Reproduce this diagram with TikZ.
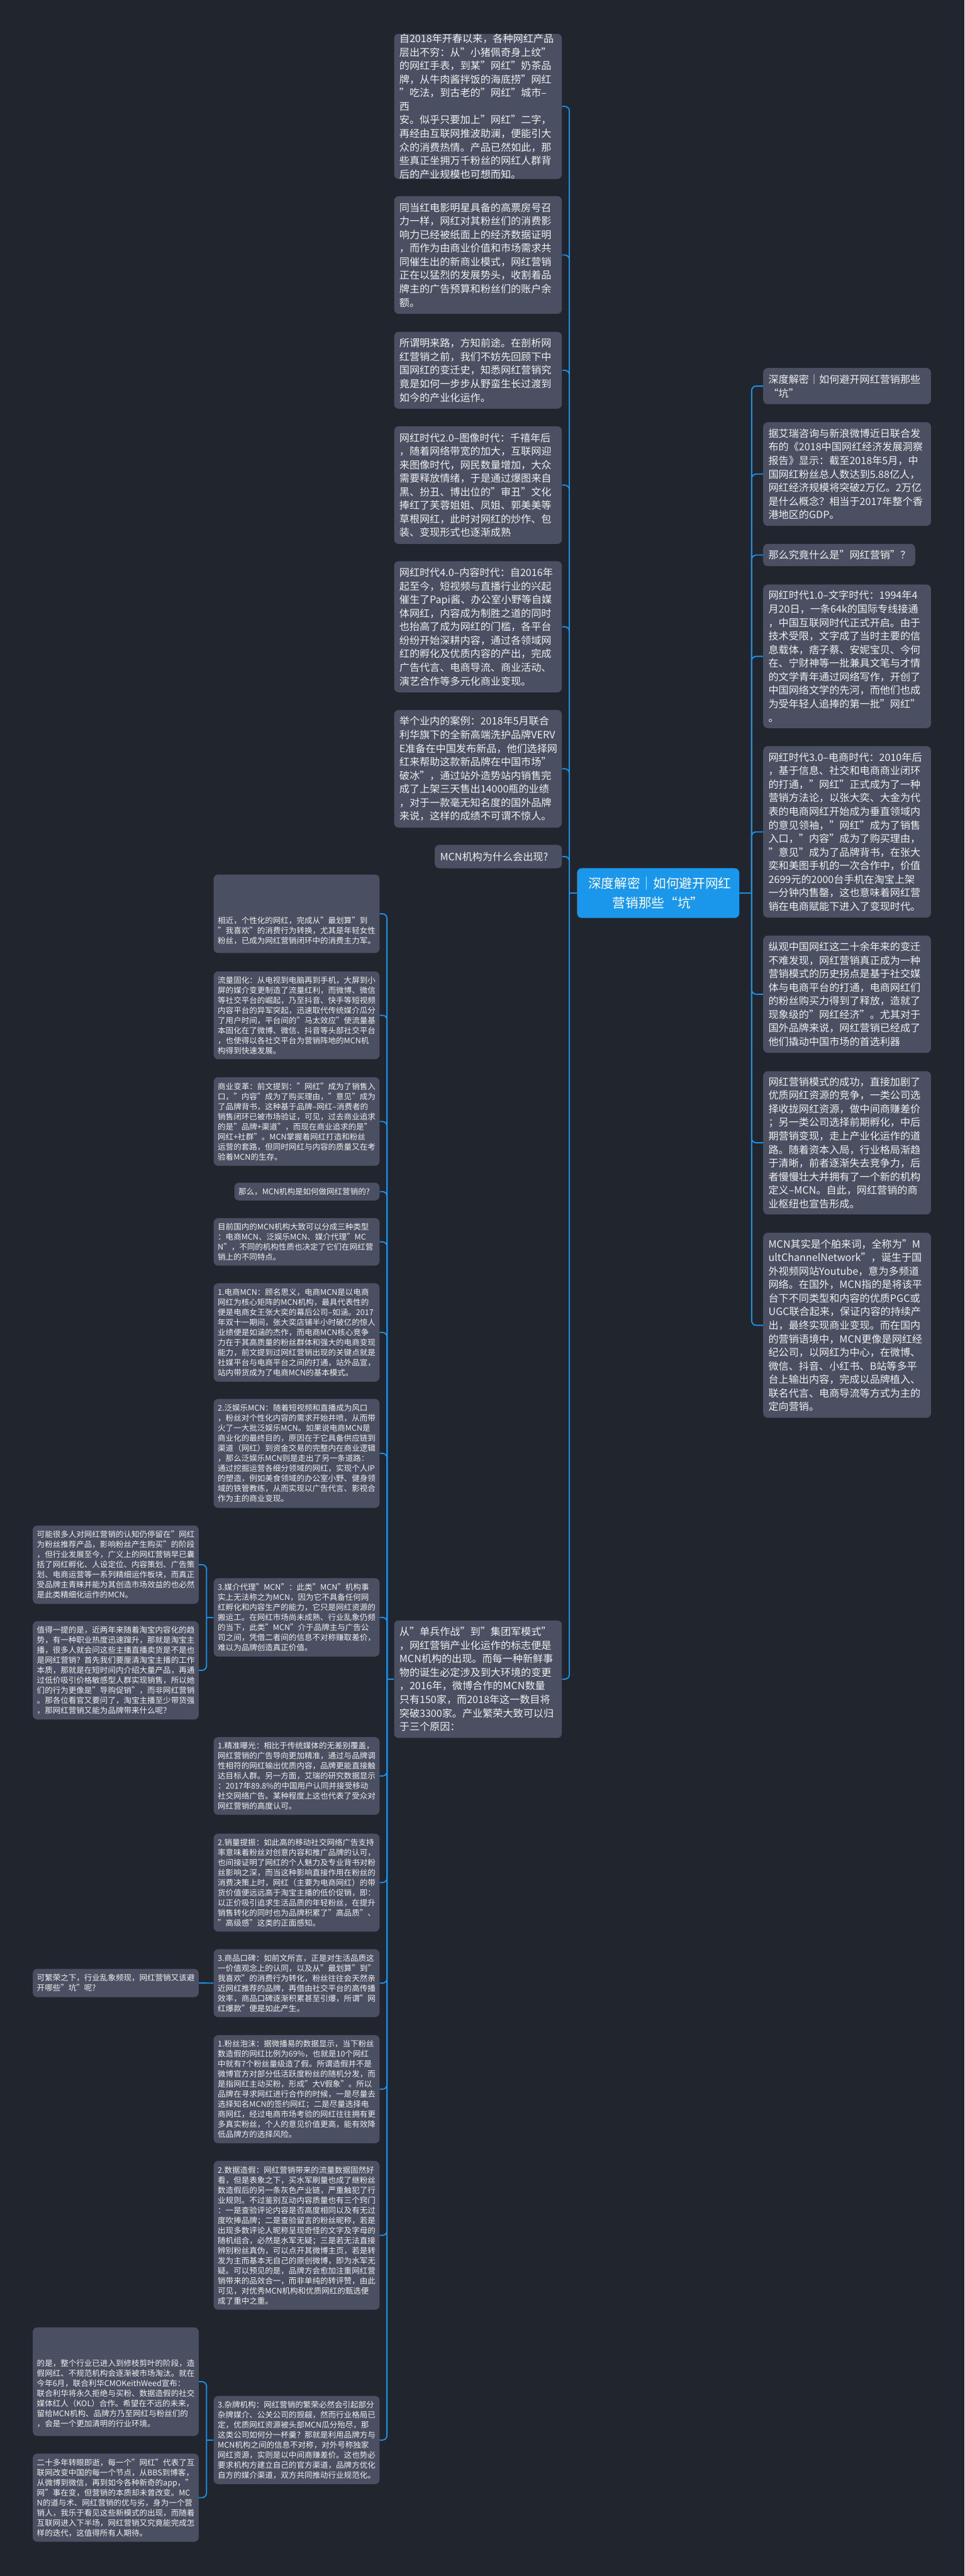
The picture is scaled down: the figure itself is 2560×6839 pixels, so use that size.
\documentclass[tikz,border=0pt]{standalone}
\usepackage{fontspec}
\setmainfont{Noto Sans CJK SC}
\usetikzlibrary{positioning}
\definecolor{mapbg}{HTML}{21252E}
\definecolor{cardfill}{HTML}{4A5061}
\definecolor{cardtext}{HTML}{F0F0F0}
\definecolor{linkblue}{HTML}{1E90E6}
\definecolor{rootblue}{HTML}{1A96EB}

\begin{document}
\begin{tikzpicture}[x=0.01cm, y=-0.01cm,
  card/.style={fill=cardfill, rounded corners=0.12cm, text=cardtext,
               align=left, inner ysep=0pt},
  bigcard/.style={card, font=\fontsize{7.65pt}{10.24pt}\selectfont,
               inner xsep=0.14cm, text width=4.17cm},
  smallcard/.style={card, font=\fontsize{5.95pt}{7.6pt}\selectfont,
               inner xsep=0.11cm, text width=4.18cm},
  rootcard/.style={fill=rootblue, rounded corners=0.12cm, text=white,
               align=center, font=\fontsize{9.8pt}{14.7pt}\selectfont,
               inner xsep=0.3cm, inner ysep=0pt, text width=3.7cm},
  link/.style={draw=linkblue, line width=0.9pt, rounded corners=0.12cm},
]

% Background and page frame.
\fill[mapbg] (0,0) rectangle (2560,6839);
\useasboundingbox (0,0) rectangle (2560,6839);

% Root.
\node[rootcard, anchor=west, minimum height=1.32cm] (root) at (1531,2371)
  {深度解密｜如何避开网红\\营销那些“坑”};

% Left column next to the root.
\node[bigcard, anchor=east, minimum height=3.85cm] (a1) at (1492,282.5)
  {自2018年开春以来，各种网红产品\\层出不穷：从”小猪佩奇身上纹”\\的网红手表，到某”网红”奶茶品\\牌，从牛肉酱拌饭的海底捞”网红\\”吃法，到古老的”网红”城市–西\\安。似乎只要加上”网红”二字，\\再经由互联网推波助澜，便能引大\\众的消费热情。产品已然如此，那\\些真正坐拥万千粉丝的网红人群背\\后的产业规模也可想而知。};
\node[bigcard, anchor=east, minimum height=3.12cm] (a2) at (1492,677)
  {同当红电影明星具备的高票房号召\\力一样，网红对其粉丝们的消费影\\响力已经被纸面上的经济数据证明\\，而作为由商业价值和市场需求共\\同催生出的新商业模式，网红营销\\正在以猛烈的发展势头，收割着品\\牌主的广告预算和粉丝们的账户余\\额。};
\node[bigcard, anchor=east, minimum height=2.04cm] (a3) at (1492,983)
  {所谓明来路，方知前途。在剖析网\\红营销之前，我们不妨先回顾下中\\国网红的变迁史，知悉网红营销究\\竟是如何一步步从野蛮生长过渡到\\如今的产业化运作。};
\node[bigcard, anchor=east, minimum height=3.12cm] (a4) at (1492,1288)
  {网红时代2.0–图像时代：千禧年后\\，随着网络带宽的加大，互联网迎\\来图像时代，网民数量增加，大众\\需要释放情绪，于是通过爆图来自\\黑、扮丑、博出位的”审丑”文化\\捧红了芙蓉姐姐、凤姐、郭美美等\\草根网红，此时对网红的炒作、包\\装、变现形式也逐渐成熟};
\node[bigcard, anchor=east, minimum height=3.48cm] (a5) at (1492,1664)
  {网红时代4.0–内容时代：自2016年\\起至今，短视频与直播行业的兴起\\催生了Papi酱、办公室小野等自媒\\体网红，内容成为制胜之道的同时\\也抬高了成为网红的门槛，各平台\\纷纷开始深耕内容，通过各领域网\\红的孵化及优质内容的产出，完成\\广告代言、电商导流、商业活动、\\演艺合作等多元化商业变现。};
\node[bigcard, anchor=east, minimum height=3.12cm] (a6) at (1492,2041)
  {举个业内的案例：2018年5月联合\\利华旗下的全新高端洗护品牌VERV\\E准备在中国发布新品，他们选择网\\红来帮助这款新品牌在中国市场”\\破冰”，通过站外造势站内销售完\\成了上架三天售出14000瓶的业绩\\，对于一款毫无知名度的国外品牌\\来说，这样的成绩不可谓不惊人。};
\node[bigcard, anchor=east, text width=3.09cm, minimum height=0.62cm] (ques) at (1492,2274)
  {MCN机构为什么会出现?};
\node[bigcard, anchor=east, minimum height=3.12cm] (from) at (1492,4458)
  {从”单兵作战”到”集团军模式”\\，网红营销产业化运作的标志便是\\MCN机构的出现。而每一种新鲜事\\物的诞生必定涉及到大环境的变更\\，2016年，微博合作的MCN数量\\只有150家，而2018年这一数目将\\突破3300家。产业繁荣大致可以归\\于三个原因：};

% Right column.
\node[bigcard, anchor=west, minimum height=0.96cm] (r1) at (2025,1025)
  {深度解密｜如何避开网红营销那些\\“坑”};
\node[bigcard, anchor=west, minimum height=2.75cm] (r2) at (2025,1258.5)
  {据艾瑞咨询与新浪微博近日联合发\\布的《2018中国网红经济发展洞察\\报告》显示：截至2018年5月，中\\国网红粉丝总人数达到5.88亿人，\\网红经济规模将突破2万亿。2万亿\\是什么概念？相当于2017年整个香\\港地区的GDP。};
\node[bigcard, anchor=west, text width=3.75cm, minimum height=0.59cm] (r3) at (2025,1473.5)
  {那么究竟什么是”网红营销”？};
\node[bigcard, anchor=west, minimum height=3.81cm] (r4) at (2025,1742.5)
  {网红时代1.0–文字时代：1994年4\\月20日，一条64k的国际专线接通\\，中国互联网时代正式开启。由于\\技术受限，文字成了当时主要的信\\息载体，痞子蔡、安妮宝贝、今何\\在、宁财神等一批兼具文笔与才情\\的文学青年通过网络写作，开创了\\中国网络文学的先河，而他们也成\\为受年轻人追捧的第一批”网红”\\。};
\node[bigcard, anchor=west, minimum height=4.55cm] (r5) at (2025,2208.5)
  {网红时代3.0–电商时代：2010年后\\，基于信息、社交和电商商业闭环\\的打通，”网红”正式成为了一种\\营销方法论，以张大奕、大金为代\\表的电商网红开始成为垂直领域内\\的意见领袖，”网红”成为了销售\\入口，”内容”成为了购买理由，\\”意见”成为了品牌背书，在张大\\奕和美图手机的一次合作中，价值\\2699元的2000台手机在淘宝上架\\一分钟内售罄，这也意味着网红营\\销在电商赋能下进入了变现时代。};
\node[bigcard, anchor=west, minimum height=3.11cm] (r6) at (2025,2639.5)
  {纵观中国网红这二十余年来的变迁\\不难发现，网红营销真正成为一种\\营销模式的历史拐点是基于社交媒\\体与电商平台的打通，电商网红们\\的粉丝购买力得到了释放，造就了\\现象级的”网红经济”。尤其对于\\国外品牌来说，网红营销已经成了\\他们撬动中国市场的首选利器};
\node[bigcard, anchor=west, minimum height=3.80cm] (r7) at (2025,3034)
  {网红营销模式的成功，直接加剧了\\优质网红资源的竞争，一类公司选\\择收拢网红资源，做中间商赚差价\\；另一类公司选择前期孵化，中后\\期营销变现，走上产业化运作的道\\路。随着资本入局，行业格局渐趋\\于清晰，前者逐渐失去竞争力，后\\者慢慢壮大并拥有了一个新的机构\\定义–MCN。自此，网红营销的商\\业枢纽也宣告形成。};
\node[bigcard, anchor=west, minimum height=4.91cm] (r8) at (2025,3518.5)
  {MCN其实是个舶来词，全称为”M\\ultChannelNetwork”，诞生于国\\外视频网站Youtube，意为多频道\\网络。在国外，MCN指的是将该平\\台下不同类型和内容的优质PGC或\\UGC联合起来，保证内容的持续产\\出，最终实现商业变现。而在国内\\的营销语境中，MCN更像是网红经\\纪公司，以网红为中心，在微博、\\微信、抖音、小红书、B站等多平\\台上输出内容，完成以品牌植入、\\联名代言、电商导流等方式为主的\\定向营销。};

% Middle column, children of the MCN card.
\node[smallcard, anchor=east, minimum height=2.08cm] (m1) at (1008,2426)
  {\mbox{}\\[22.8pt]相近，个性化的网红，完成从”最划算”到\\”我喜欢”的消费行为转换，尤其是年轻女性\\粉丝，已成为网红营销闭环中的消费主力军。};
\node[smallcard, anchor=east, minimum height=2.33cm] (m2) at (1008,2695.5)
  {流量固化：从电视到电脑再到手机，大屏到小\\屏的媒介变更制造了流量红利，而微博、微信\\等社交平台的崛起，乃至抖音、快手等短视频\\内容平台的异军突起，迅速取代传统媒介瓜分\\了用户时间，平台间的”马太效应”使流量基\\本固化在了微博、微信、抖音等头部社交平台\\，也使得以各社交平台为营销阵地的MCN机\\构得到快速发展。};
\node[smallcard, anchor=east, minimum height=2.35cm] (m3) at (1008,2977.5)
  {商业变革：前文提到：”网红”成为了销售入\\口，”内容”成为了购买理由，”意见”成为\\了品牌背书，这种基于品牌–网红–消费者的\\销售闭环已被市场验证，可见，过去商业追求\\的是”品牌+渠道”，而现在商业追求的是”\\网红+社群”。MCN掌握着网红打造和粉丝\\运营的套路，但同时网红与内容的质量又在考\\验着MCN的生存。};
\node[smallcard, anchor=east, text width=3.63cm, minimum height=0.47cm] (m4) at (1008,3163.5)
  {那么，MCN机构是如何做网红营销的?};
\node[smallcard, anchor=east, minimum height=1.26cm] (m5) at (1008,3297)
  {目前国内的MCN机构大致可以分成三种类型\\：电商MCN、泛娱乐MCN、媒介代理”MC\\N”，不同的机构性质也决定了它们在网红营\\销上的不同特点。};
\node[smallcard, anchor=east, minimum height=2.61cm] (m6) at (1008,3537.5)
  {1.电商MCN：顾名思义，电商MCN是以电商\\网红为核心矩阵的MCN机构，最具代表性的\\便是电商女王张大奕的幕后公司–如涵。2017\\年双十一期间，张大奕店铺半小时破亿的惊人\\业绩便是如涵的杰作，而电商MCN核心竞争\\力在于其高质量的粉丝群体和强大的电商变现\\能力，前文提到过网红营销出现的关键点就是\\社媒平台与电商平台之间的打通，站外品宣，\\站内带货成为了电商MCN的基本模式。};
\node[smallcard, anchor=east, minimum height=2.89cm] (m7) at (1008,3858.5)
  {2.泛娱乐MCN：随着短视频和直播成为风口\\，粉丝对个性化内容的需求开始井喷，从而带\\火了一大批泛娱乐MCN。如果说电商MCN是\\商业化的最终目的，原因在于它具备供应链到\\渠道（网红）到资金交易的完整内在商业逻辑\\，那么泛娱乐MCN则是走出了另一条道路：\\通过挖掘运营各细分领域的网红，实现个人IP\\的塑造，例如美食领域的办公室小野、健身领\\域的铁管教练，从而实现以广告代言、影视合\\作为主的商业变现。};
\node[smallcard, anchor=east, minimum height=2.08cm] (m8) at (1008,4294)
  {3.媒介代理”MCN”：此类”MCN”机构事\\实上无法称之为MCN，因为它不具备任何网\\红孵化和内容生产的能力，它只是网红资源的\\搬运工。在网红市场尚未成熟、行业乱象仍频\\的当下，此类”MCN”介于品牌主与广告公\\司之间，凭借二者间的信息不对称赚取差价，\\难以为品牌创造真正价值。};
\node[smallcard, anchor=east, minimum height=2.06cm] (m9) at (1008,4715)
  {1.精准曝光：相比于传统媒体的无差别覆盖，\\网红营销的广告导向更加精准，通过与品牌调\\性相符的网红输出优质内容，品牌更能直接触\\达目标人群。另一方面，艾瑞的研究数据显示\\：2017年89.8\%的中国用户认同并接受移动\\社交网络广告。某种程度上这也代表了受众对\\网红营销的高度认可。};
\node[smallcard, anchor=east, minimum height=2.60cm] (m10) at (1008,4998)
  {2.销量提振：如此高的移动社交网络广告支持\\率意味着粉丝对创意内容和推广品牌的认可，\\也间接证明了网红的个人魅力及专业背书对粉\\丝影响之深，而当这种影响直接作用在粉丝的\\消费决策上时，网红（主要为电商网红）的带\\货价值便远远高于淘宝主播的低价促销，即：\\以正价吸引追求生活品质的年轻粉丝，在提升\\销售转化的同时也为品牌积累了”高品质”、\\”高级感”这类的正面感知。};
\node[smallcard, anchor=east, minimum height=1.80cm] (m11) at (1008,5265)
  {3.商品口碑：如前文所言，正是对生活品质这\\一价值观念上的认同，以及从”最划算”到”\\我喜欢”的消费行为转化，粉丝往往会天然亲\\近网红推荐的品牌，再借由社交平台的高传播\\效率，商品口碑逐渐积累甚至引爆，所谓”网\\红爆款”便是如此产生。};
\node[smallcard, anchor=east, minimum height=2.87cm] (m12) at (1008,5546.5)
  {1.粉丝泡沫：据微播易的数据显示，当下粉丝\\数造假的网红比例为69\%，也就是10个网红\\中就有7个粉丝量级造了假。所谓造假并不是\\微博官方对部分低活跃度粉丝的随机分发，而\\是指网红主动买粉，形成”大V假象”。所以\\品牌在寻求网红进行合作的时候，一是尽量去\\选择知名MCN的签约网红；二是尽量选择电\\商网红，经过电商市场考验的网红往往拥有更\\多真实粉丝，个人的意见价值更高，能有效降\\低品牌方的选择风险。};
\node[smallcard, anchor=east, minimum height=3.95cm] (m13) at (1008,5934.5)
  {2.数据造假：网红营销带来的流量数据固然好\\看，但是表象之下，买水军刷量也成了继粉丝\\数造假后的另一条灰色产业链，严重触犯了行\\业规则。不过鉴别互动内容质量也有三个窍门\\：一是查验评论内容是否高度相同以及有无过\\度吹捧品牌；二是查验留言的粉丝昵称，若是\\出现多数评论人昵称呈现奇怪的文字及字母的\\随机组合，必然是水军无疑；三是若无法直接\\辨别粉丝真伪，可以点开其微博主页，若是转\\发为主而基本无自己的原创微博，即为水军无\\疑。可以预见的是，品牌方会愈加注重网红营\\销带来的品效合一，而非单纯的转评赞，由此\\可见，对优秀MCN机构和优质网红的甄选便\\成了重中之重。};
\node[smallcard, anchor=east, minimum height=2.34cm] (m14) at (1008,6478)
  {3.杂牌机构：网红营销的繁荣必然会引起部分\\杂牌媒介、公关公司的觊觎，然而行业格局已\\定，优质网红资源被头部MCN瓜分殆尽，那\\这类公司如何分一杯羹？那就是利用品牌方与\\MCN机构之间的信息不对称，对外号称独家\\网红资源，实则是以中间商赚差价。这也势必\\要求机构方建立自己的官方渠道，品牌方优化\\自方的媒介渠道，双方共同推动行业规范化。};

% Far left column.
\node[smallcard, anchor=east, minimum height=2.08cm] (f1) at (528,4154)
  {可能很多人对网红营销的认知仍停留在”网红\\为粉丝推荐产品，影响粉丝产生购买”的阶段\\，但行业发展至今，广义上的网红营销早已囊\\括了网红孵化、人设定位、内容策划、广告策\\划、电商运营等一系列精细运作板块，而真正\\受品牌主青睐并能为其创造市场效益的也必然\\是此类精细化运作的MCN。};
\node[smallcard, anchor=east, minimum height=2.61cm] (f2) at (528,4434.5)
  {值得一提的是，近两年来随着淘宝内容化的趋\\势，有一种职业热度迅速蹿升，那就是淘宝主\\播，很多人就会问这些主播直播卖货是不是也\\是网红营销？首先我们要厘清淘宝主播的工作\\本质，那就是在短时间内介绍大量产品，再通\\过低价吸引价格敏感型人群实现销售，所以她\\们的行为更像是”导购促销”，而非网红营销\\。那各位看官又要问了，淘宝主播至少带货强\\，那网红营销又能为品牌带来什么呢？};
\node[smallcard, anchor=east, minimum height=0.75cm] (f3) at (528,5264.5)
  {可繁荣之下，行业乱象频现，网红营销又该避\\开哪些”坑”呢?};
\node[smallcard, anchor=east, minimum height=2.88cm] (f4) at (528,6323)
  {\mbox{}\\[15.2pt]的是，整个行业已进入到修枝剪叶的阶段，造\\假网红、不规范机构会逐渐被市场淘汰。就在\\今年6月，联合利华CMOKeithWeed宣布：\\联合利华将永久拒绝与买粉、数据造假的社交\\媒体红人（KOL）合作。希望在不远的未来，\\留给MCN机构、品牌方乃至网红与粉丝们的\\，会是一个更加清明的行业环境。};
\node[smallcard, anchor=east, minimum height=2.34cm] (f5) at (528,6631)
  {二十多年转眼即逝，每一个”网红”代表了互\\联网改变中国的每一个节点，从BBS到博客，\\从微博到微信，再到如今各种新奇的app，”\\网”事在变，但营销的本质却未曾改变。MC\\N的道与术、网红营销的优与劣，身为一个营\\销人，我乐于看见这些新模式的出现，而随着\\互联网进入下半场，网红营销又究竟能完成怎\\样的迭代，这值得所有人期待。};

% Trunk points.
\coordinate (ltrunk) at (1511,2371);
\coordinate (rtrunk) at (1995,2371);
\coordinate (mtrunk) at (1027,4458);
\coordinate (ftrunka) at (548,4294);
\coordinate (ftrunkb) at (548,6478);

% Connectors.
\draw[link] (root.west) -- (ltrunk);
\draw[link] (root.east) -- (rtrunk);
\foreach \n in {a1,a2,a3,a4,a5,a6,ques,from}
  \draw[link] (ltrunk) |- (\n.east);
\foreach \n in {r1,r2,r3,r4,r5,r6,r7,r8}
  \draw[link] (rtrunk) |- (\n.west);
\draw[link] (from.west) -- (mtrunk);
\foreach \n in {m1,m2,m3,m4,m5,m6,m7,m8,m9,m10,m11,m12,m13,m14}
  \draw[link] (mtrunk) |- (\n.east);
\draw[link] (m8.west) -- (ftrunka);
\foreach \n in {f1,f2}
  \draw[link] (ftrunka) |- (\n.east);
\draw[link] (m11.west) -- (f3.east);
\draw[link] (m14.west) -- (ftrunkb);
\foreach \n in {f4,f5}
  \draw[link] (ftrunkb) |- (\n.east);

\end{tikzpicture}
\end{document}
